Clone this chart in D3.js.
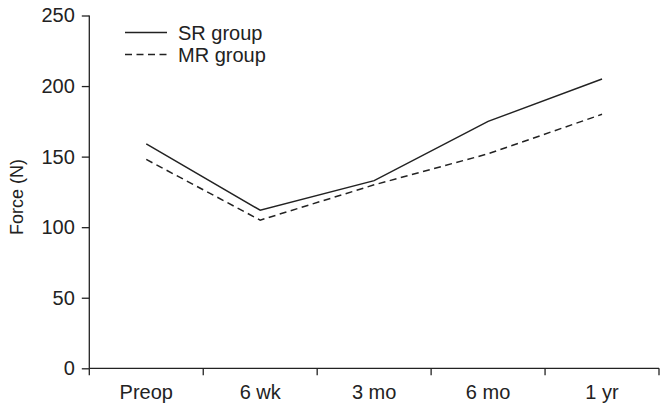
<!DOCTYPE html>
<html>
<head>
<meta charset="utf-8">
<script src="https://cdn.jsdelivr.net/npm/d3@7.9.0/dist/d3.min.js"></script>
<style>
  body { margin: 0; background: #fff; }
  svg { display: block; font-family: 'Liberation Sans', Arial, sans-serif; }
  .axis path, .axis line { stroke: #222; stroke-width: 1.3; }
  .axis text { fill: #222; font-size: 20px; }
</style>
</head>
<body>
<div id="chart"></div>
<script>
const categories = ['Preop', '6 wk', '3 mo', '6 mo', '1 yr'];
const srGroup = [159, 112, 133, 175, 205];
const mrGroup = [148, 105, 130, 152, 180];
const yTicks = [0, 50, 100, 150, 200, 250];

const series = [
  { name: 'SR group', values: srGroup, dash: null },
  { name: 'MR group', values: mrGroup, dash: '7,4.5' },
];

const width = 660;
const height = 407;
const margin = { top: 15.5, right: 1, bottom: 38.7, left: 89.3 };

const svg = d3.select('#chart')
  .append('svg')
  .attr('width', width)
  .attr('height', height);

const xScale = d3.scaleBand()
  .domain(categories)
  .range([margin.left, width - margin.right]);

const yScale = d3.scaleLinear()
  .domain([0, 250])
  .range([height - margin.bottom, margin.top]);

// x axis, ticks sit on the category boundaries
const xAxis = svg.append('g')
  .attr('class', 'axis')
  .attr('transform', `translate(0, ${height - margin.bottom})`);

xAxis.append('line')
  .attr('x1', xScale.range()[0])
  .attr('x2', xScale.range()[1]);

xAxis.selectAll('.tick')
  .data(categories.concat('end'))
  .join('line')
  .attr('class', 'tick')
  .attr('x1', (d, i) => xScale.range()[0] + i * xScale.bandwidth())
  .attr('x2', (d, i) => xScale.range()[0] + i * xScale.bandwidth())
  .attr('y1', 0)
  .attr('y2', 7);

xAxis.selectAll('text')
  .data(categories)
  .join('text')
  .attr('x', d => xScale(d) + xScale.bandwidth() / 2)
  .attr('y', 31)
  .attr('text-anchor', 'middle')
  .text(d => d);

svg.append('g')
  .attr('class', 'axis')
  .attr('transform', `translate(${margin.left}, 0)`)
  .call(d3.axisLeft(yScale).tickValues(yTicks).tickSize(7.5).tickPadding(7).tickSizeOuter(0))
  .call(g => g.select('.domain').attr('d', `M0,${yScale(250)}V${yScale(0)}`));

svg.append('text')
  .attr('transform', `translate(23, ${(yScale(0) + yScale(250)) / 2 + 5}) rotate(-90)`)
  .attr('text-anchor', 'middle')
  .attr('font-size', 18)
  .attr('fill', '#222')
  .text('Force (N)');

const line = d3.line()
  .x((d, i) => xScale(categories[i]) + xScale.bandwidth() / 2)
  .y(d => yScale(d));

svg.append('g')
  .selectAll('path')
  .data(series)
  .join('path')
  .attr('d', d => line(d.values))
  .attr('fill', 'none')
  .attr('stroke', '#222')
  .attr('stroke-width', 1.5)
  .attr('stroke-dasharray', d => d.dash);

// legend
const legend = svg.append('g')
  .selectAll('g')
  .data(series)
  .join('g')
  .attr('transform', (d, i) => `translate(125, ${32.5 + i * 22})`);

legend.append('line')
  .attr('x1', 0)
  .attr('x2', 42)
  .attr('stroke', '#222')
  .attr('stroke-width', 1.5)
  .attr('stroke-dasharray', d => d.dash);

legend.append('text')
  .attr('x', 53)
  .attr('y', 7)
  .attr('font-size', 20)
  .attr('fill', '#222')
  .text(d => d.name);
</script>
</body>
</html>
